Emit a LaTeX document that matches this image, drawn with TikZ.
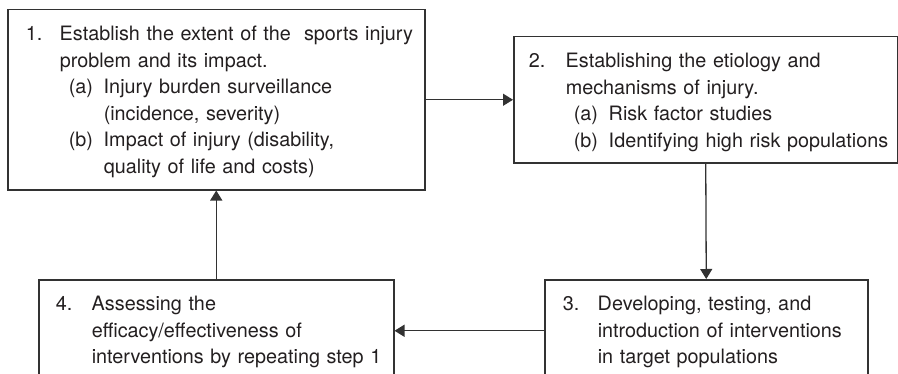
\documentclass[tikz,border=0pt]{standalone}
\usepackage{fontspec}
\setmainfont{TeX Gyre Heros}
\usetikzlibrary{arrows.meta}
\definecolor{ink}{RGB}{35,31,32}
\definecolor{rulec}{RGB}{50,50,50}

\begin{document}
\begin{tikzpicture}[
  x=0.5pt, y=-0.5pt,
  every node/.style={font={\fontsize{9.9}{13.25}\selectfont}},
  stepbox/.style={draw=rulec, line width=0.75pt, anchor=north west, inner ysep=0pt, align=left, text=ink, text height=15.5pt},
  flow/.style={->, draw=rulec, line width=0.65pt},
  >={Triangle[length=5pt, width=6pt]}
]
\useasboundingbox (0,0) rectangle (898,374);
\clip (0,0) rectangle (898,374);

% the four steps
\node[stepbox, inner xsep=9pt, text width=190.5pt, text depth=74.5pt] (s1) at (7,9) {%
  \begin{tabular}[t]{@{}l@{}}
  \makebox[17pt][l]{1.}Establish the extent of the\ \ sports injury\\
  \hspace*{17pt}problem and its impact.\\
  \hspace*{21.5pt}\makebox[17.5pt][l]{(a)}Injury burden surveillance\\
  \hspace*{39pt}(incidence, severity)\\
  \hspace*{21.5pt}\makebox[17.5pt][l]{(b)}Impact of injury (disability,\\
  \hspace*{39pt}quality of life and costs)
  \end{tabular}};

\node[stepbox, inner xsep=7.5pt, text width=177pt, text depth=47.5pt] (s2) at (513,36) {%
  \begin{tabular}[t]{@{}l@{}}
  \makebox[18.5pt][l]{2.}Establishing the etiology and\\
  \hspace*{18.5pt}mechanisms of injury.\\
  \hspace*{22.5pt}\makebox[17.5pt][l]{(a)}Risk factor studies\\
  \hspace*{22.5pt}\makebox[17.5pt][l]{(b)}Identifying high risk populations
  \end{tabular}};

\node[stepbox, inner xsep=9pt, text width=143.5pt, text depth=35.5pt] (s3) at (544,279) {%
  \begin{tabular}[t]{@{}l@{}}
  \makebox[17.5pt][l]{3.}Developing, testing, and\\
  \hspace*{17.5pt}introduction of interventions\\
  \hspace*{17.5pt}in target populations
  \end{tabular}};

\node[stepbox, inner xsep=8.5pt, text width=160.5pt, text depth=35.5pt] (s4) at (38,279) {%
  \begin{tabular}[t]{@{}l@{}}
  \makebox[18pt][l]{4.}Assessing the\\
  \hspace*{18pt}efficacy/effectiveness of\\
  \hspace*{18pt}interventions by repeating step 1
  \end{tabular}};

% the cycle
\draw[flow] (s1.east) -- (s2.west);
\draw[flow] (s2.south) -- (s3.north);
\draw[flow] (s3.west) -- (s4.east);
\draw[flow] (s4.north) -- (s1.south);

\end{tikzpicture}
\end{document}
